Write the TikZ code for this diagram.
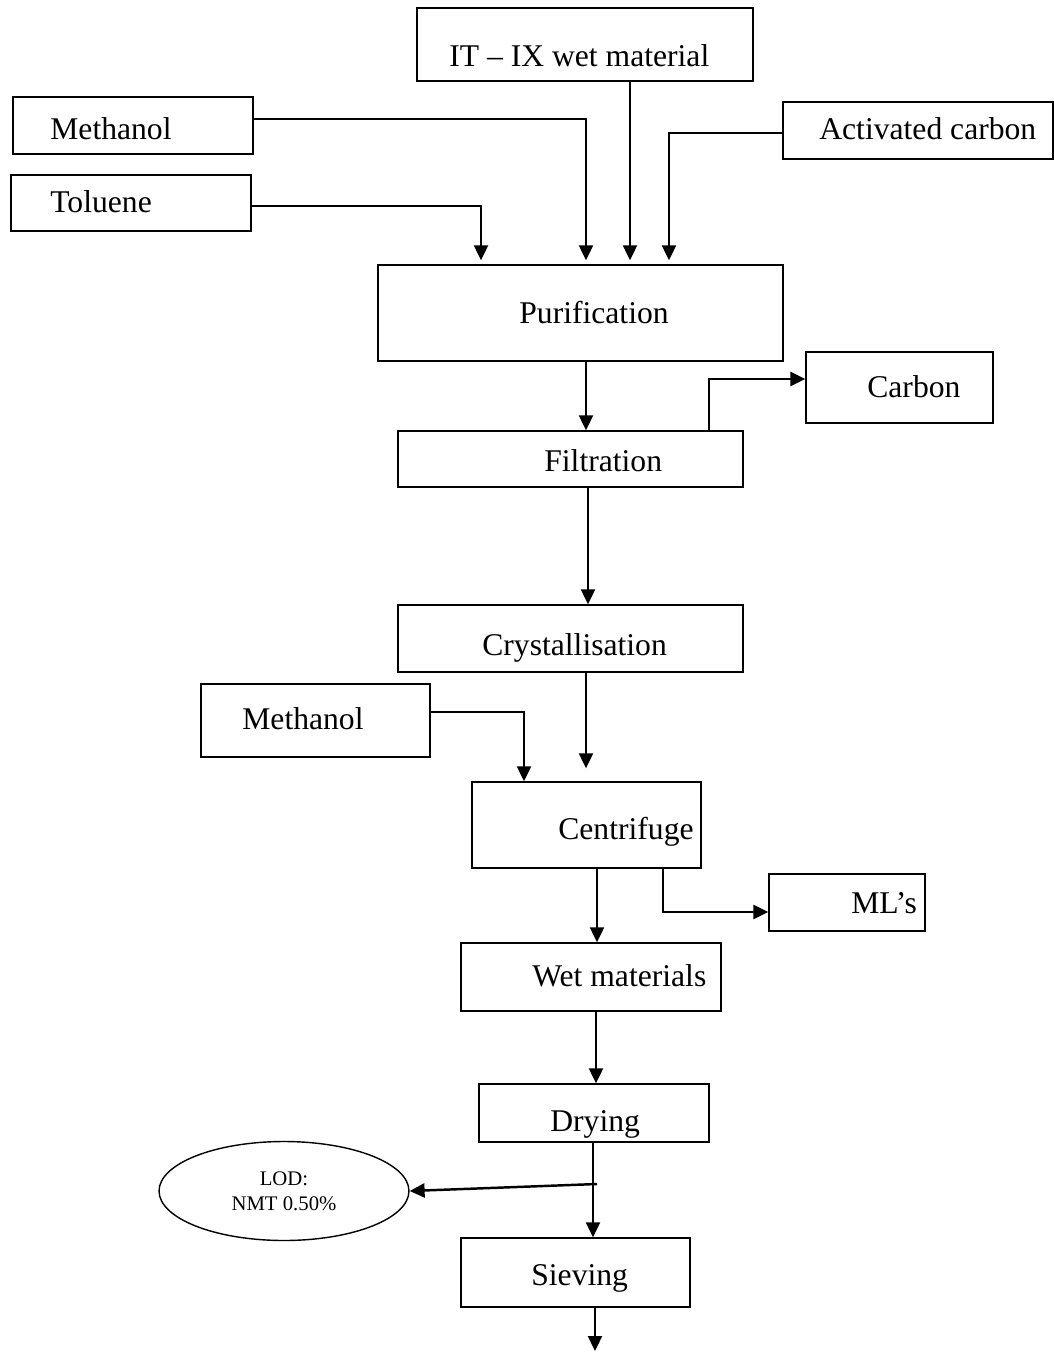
\documentclass[tikz,border=0pt]{standalone}
\usepackage{fontspec}
\setmainfont{Liberation Serif}
\usetikzlibrary{arrows.meta,positioning,fit,shapes.geometric}

\begin{document}
\begin{tikzpicture}[x=0.02cm, y=-0.02cm,
    box/.style={draw, line width=0.8pt, inner sep=0pt},
    lbl/.style={anchor=base west, inner sep=0pt, font=\fontsize{18}{21.6}\selectfont},
    oval/.style={draw, ellipse, line width=0.8pt, inner sep=0pt, minimum width=5cm, minimum height=1.98cm, align=center, font=\fontsize{11.8}{14}\selectfont},
    arr/.style={-{Triangle[length=8.5pt, width=8pt]}, line width=1pt},
    barr/.style={arr, line width=1.4pt},
]
    \useasboundingbox (0,0) rectangle (1054,1353);

    % feed boxes
    \node[box, fit={(417,8) (753,81)}] (itix) {};
    \node[box, fit={(13,97) (253,154)}] (meth) {};
    \node[box, fit={(11,175) (251,231)}] (tol) {};
    \node[box, fit={(783,102) (1053,159)}] (actc) {};

    % process boxes
    \node[box, fit={(378,265) (783,361)}] (purif) {};
    \node[box, fit={(806,352) (993,423)}] (carbon) {};
    \node[box, fit={(398,431) (743,487)}] (filt) {};
    \node[box, fit={(398,605) (743,672)}] (cryst) {};
    \node[box, fit={(201,684) (430,757)}] (meth2) {};
    \node[box, fit={(472,782) (701,868)}] (centr) {};
    \node[box, fit={(769,874) (925,931)}] (mls) {};
    \node[box, fit={(461,943) (721,1011)}] (wet) {};
    \node[box, fit={(479,1084) (709,1142)}] (dry) {};
    \node[box, fit={(461,1238) (690,1307)}] (siev) {};
    \node[oval] (lod) at (284,1191) {LOD:\\NMT 0.50\%};

    % texts
    \node[lbl] (itixlbl) at (449,66) {IT \textendash{} IX wet material};
    \node[lbl] (methlbl) at (50,139) {Methanol};
    \node[lbl] (tollbl) at (50,212) {Toluene};
    \node[lbl] (actclbl) at (819,139) {Activated carbon};
    \node[lbl] (puriflbl) at (519,323) {Purification};
    \node[lbl] (carbonlbl) at (867,397) {Carbon};
    \node[lbl] (filtlbl) at (544,471) {Filtration};
    \node[lbl] (crystlbl) at (482,655) {Crystallisation};
    \node[lbl] (meth2lbl) at (242,729) {Methanol};
    \node[lbl] (centrlbl) at (558,839) {Centrifuge};
    \node[lbl] (mlslbl) at (851,913) {ML’s};
    \node[lbl] (wetlbl) at (532,986) {Wet materials};
    \node[lbl] (drylbl) at (550,1131) {Drying};
    \node[lbl] (sievlbl) at (531,1285) {Sieving};

    \coordinate (lodsplit) at (597,1184);
    \coordinate (out) at (595,1351);

    % connectors
    \draw[arr, shorten >=0.08cm] (meth.east |- 0,119) -| (purif.north -| 586,0);
    \draw[arr, shorten >=0.08cm] (tol.east |- 0,206) -| (purif.north -| 481,0);
    \draw[arr, shorten >=0.08cm] (itix.south -| 630,0) -- (purif.north -| 630,0);
    \draw[arr, shorten >=0.08cm] (actc.west |- 0,133) -| (purif.north -| 669,0);
    \draw[arr] (purif.south -| 586,0) -- (filt.north -| 586,0);
    \draw[barr] (filt.north -| 709,0) |- (carbon.west |- 0,379);
    \draw[arr] (filt.south -| 588,0) -- (cryst.north -| 588,0);
    \draw[arr, shorten >=0.26cm] (cryst.south -| 586,0) -- (centr.north -| 586,0);
    \draw[arr] (meth2.east |- 0,712) -| (centr.north -| 524,0);
    \draw[barr] (centr.south -| 663,0) |- (mls.west |- 0,912);
    \draw[arr] (centr.south -| 597,0) -- (wet.north -| 597,0);
    \draw[arr] (wet.south -| 596,0) -- (dry.north -| 596,0);
    \draw[arr] (dry.south -| 593,0) -- (siev.north -| 593,0);
    \draw[barr] (lodsplit) -- (lod.east);
    \draw[arr] (siev.south -| 595,0) -- (out);
\end{tikzpicture}
\end{document}
